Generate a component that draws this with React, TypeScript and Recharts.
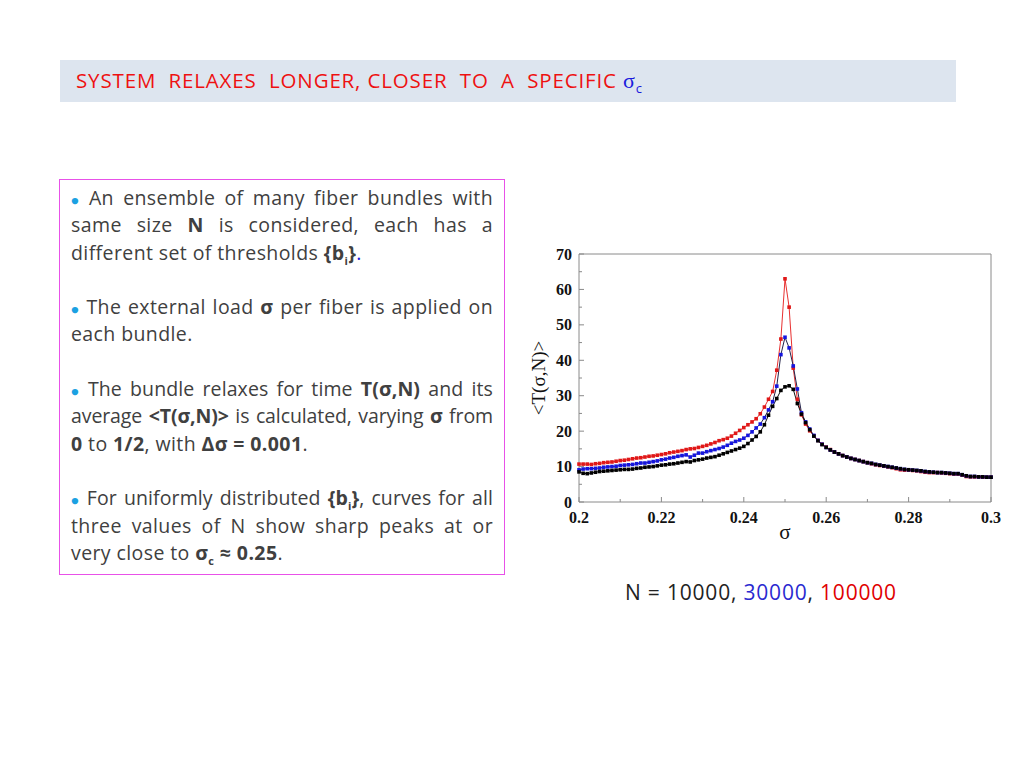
import React from "react";
import { LineChart, Line, XAxis, YAxis, ReferenceLine } from "recharts";

// sigma grid, step 0.001
const sigma = [
  0.2, 0.201, 0.202, 0.203, 0.204, 0.205, 0.206, 0.207, 0.208, 0.209,
  0.21, 0.211, 0.212, 0.213, 0.214, 0.215, 0.216, 0.217, 0.218, 0.219,
  0.22, 0.221, 0.222, 0.223, 0.224, 0.225, 0.226, 0.227, 0.228, 0.229,
  0.23, 0.231, 0.232, 0.233, 0.234, 0.235, 0.236, 0.237, 0.238, 0.239,
  0.24, 0.241, 0.242, 0.243, 0.244, 0.245, 0.246, 0.247, 0.248, 0.249,
  0.25, 0.251, 0.252, 0.253, 0.254, 0.255, 0.256, 0.257, 0.258, 0.259,
  0.26, 0.261, 0.262, 0.263, 0.264, 0.265, 0.266, 0.267, 0.268, 0.269,
  0.27, 0.271, 0.272, 0.273, 0.274, 0.275, 0.276, 0.277, 0.278, 0.279,
  0.28, 0.281, 0.282, 0.283, 0.284, 0.285, 0.286, 0.287, 0.288, 0.289,
  0.29, 0.291, 0.292, 0.293, 0.294, 0.295, 0.296, 0.297, 0.298, 0.299,
  0.3,
];

// N = 100000 (red)
const tRed = [
  10.7, 10.7, 10.7, 10.6, 10.8, 10.9, 11.1, 11.2, 11.3, 11.5,
  11.7, 11.8, 12.0, 12.2, 12.4, 12.5, 12.7, 12.9, 13.0, 13.2,
  13.4, 13.6, 13.9, 14.1, 14.3, 14.5, 14.8, 15.0, 15.1, 15.4,
  15.7, 16.0, 16.4, 16.8, 17.3, 17.6, 18.0, 18.6, 19.4, 20.2,
  21.0, 21.8, 22.6, 23.5, 24.9, 26.8, 29.0, 31.2, 37.2, 46.0,
  63.0, 55.0, 37.8, 29.0, 24.6, 22.0, 20.1, 18.7, 17.4, 16.3,
  15.5, 14.8, 14.1, 13.6, 13.1, 12.7, 12.3, 12.0, 11.7, 11.4,
  11.1, 10.8, 10.5, 10.3, 10.1, 9.9, 9.7, 9.4, 9.1, 9.0,
  9.0, 8.9, 8.8, 8.6, 8.4, 8.3, 8.3, 8.3, 8.2, 8.1,
  8.0, 7.9, 7.9, 7.6, 7.2, 7.1, 7.1, 7.1, 7.0, 7.0,
  7.0,
];

// N = 30000 (blue)
const tBlue = [
  9.1, 9.3, 9.4, 9.4, 9.5, 9.6, 9.8, 9.9, 10.0, 10.1,
  10.3, 10.4, 10.5, 10.6, 10.8, 11.0, 11.0, 11.2, 11.4, 11.6,
  11.9, 12.1, 12.4, 12.6, 12.9, 13.1, 13.3, 12.7, 13.2, 13.8,
  13.8, 14.2, 14.5, 14.8, 15.1, 15.5, 16.0, 16.6, 17.1, 17.5,
  18.0, 18.8, 19.8, 20.9, 22.0, 23.8, 26.0, 28.3, 32.7, 41.6,
  46.5, 43.5, 38.4, 31.9, 25.2, 22.6, 20.6, 18.8, 17.4, 16.3,
  15.4, 14.7, 14.1, 13.6, 13.1, 12.7, 12.3, 12.0, 11.7, 11.4,
  11.1, 10.9, 10.6, 10.4, 10.2, 10.0, 9.8, 9.6, 9.4, 9.2,
  9.1, 9.0, 8.9, 8.8, 8.6, 8.5, 8.4, 8.3, 8.3, 8.2,
  8.1, 8.0, 8.0, 7.7, 7.4, 7.2, 7.2, 7.1, 7.1, 7.0,
  7.0,
];

// N = 10000 (black)
const tBlack = [
  8.5, 8.1, 8.0, 8.2, 8.4, 8.6, 8.7, 8.8, 8.9, 9.0,
  9.1, 9.2, 9.2, 9.3, 9.5, 9.6, 9.8, 9.9, 10.0, 10.2,
  10.4, 10.5, 10.7, 10.8, 11.0, 11.2, 11.4, 11.3, 11.7, 11.9,
  12.1, 12.4, 12.6, 12.8, 13.2, 13.6, 14.0, 14.4, 14.8, 15.2,
  15.7, 16.5, 17.5, 18.5, 19.8, 21.8, 24.5, 27.0, 29.2, 31.5,
  32.5, 32.8, 31.8, 27.8, 24.8, 22.4, 20.4, 18.6, 17.3, 16.2,
  15.4, 14.7, 14.1, 13.6, 13.1, 12.7, 12.3, 12.0, 11.7, 11.4,
  11.1, 10.9, 10.6, 10.4, 10.2, 10.0, 9.8, 9.6, 9.4, 9.2,
  9.1, 9.0, 8.9, 8.8, 8.6, 8.5, 8.4, 8.3, 8.3, 8.2,
  8.1, 8.0, 8.0, 7.7, 7.4, 7.2, 7.2, 7.1, 7.1, 7.0,
  7.0,
];

const xTicks = [0.2, 0.21, 0.22, 0.23, 0.24, 0.25, 0.26, 0.27, 0.28, 0.29, 0.3];
const xMajor = [0.2, 0.22, 0.24, 0.26, 0.28, 0.3];
const yTicks = [0, 5, 10, 15, 20, 25, 30, 35, 40, 45, 50, 55, 60, 65, 70];
const yMajor = [0, 10, 20, 30, 40, 50, 60, 70];

const data = sigma.map((s, i) => ({
  s,
  red: tRed[i],
  blue: tBlue[i],
  black: tBlack[i],
}));

const serif = "'Liberation Serif', 'DejaVu Serif', serif";
const sans = "'Open Sans', Lato, sans-serif";
const axisColor = "#8a8a8a";
const TICK_MARGIN = 10;

const XTick = (props: any) => {
  const { x, y, payload } = props;
  const v = payload.value;
  const axisY = y - TICK_MARGIN;
  const major = xMajor.includes(v);
  return (
    <g>
      <line x1={x} x2={x} y1={axisY} y2={axisY - (major ? 5 : 3)} stroke={axisColor} />
      {major && (
        <text x={x} y={y} dy="0.7em" textAnchor="middle" fontFamily={serif} fontWeight="bold" fontSize={16} fill="#111">
          {String(v)}
        </text>
      )}
    </g>
  );
};

const YTick = (props: any) => {
  const { x, y, payload } = props;
  const v = payload.value;
  const axisX = x + TICK_MARGIN;
  const major = yMajor.includes(v);
  return (
    <g>
      <line x1={axisX} x2={axisX + (major ? 5 : 3)} y1={y} y2={y} stroke={axisColor} />
      {major && (
        <text x={x + 3} y={y} dy="0.35em" textAnchor="end" fontFamily={serif} fontWeight="bold" fontSize={16} fill="#111">
          {v}
        </text>
      )}
    </g>
  );
};

const squareDot = (color: string) => (props: any) => {
  const { cx, cy, index } = props;
  if (cx == null || cy == null) return <g key={`e-${index}`} />;
  return <rect key={`d-${color}-${index}`} x={cx - 1.8} y={cy - 1.8} width={3.6} height={3.6} fill={color} />;
};

const bullet = <span style={{ color: "#1ba1e2", fontSize: 13, marginRight: 6 }}>●</span>;

const lineBase: React.CSSProperties = { height: 27.3, lineHeight: "27.3px", whiteSpace: "nowrap" };
const Full = ({ children, ls }: { children: React.ReactNode; ls?: number }) => (
  <div
    style={{
      ...lineBase,
      textAlign: "justify",
      textAlignLast: "justify",
      ...(ls !== undefined ? { letterSpacing: ls } : {}),
    }}
  >
    {children}
  </div>
);
const Last = ({ children }: { children: React.ReactNode }) => (
  <div style={{ ...lineBase, textAlign: "left" }}>{children}</div>
);
const Blank = () => <div style={{ height: 27.3 }} />;
const subStyle: React.CSSProperties = { fontSize: 11, lineHeight: 0 };

export default function App() {
  return (
    <div style={{ position: "absolute", left: 0, top: 0, width: 1024, height: 768, background: "#fff", fontFamily: sans }}>
      {/* title bar */}
      <div
        style={{
          position: "absolute",
          left: 60,
          top: 60,
          width: 896,
          height: 42,
          background: "#dde5ef",
        }}
      >
        <div
          style={{
            position: "absolute",
            left: 16,
            top: 7,
            fontSize: 20.5,
            letterSpacing: 0.85,
            color: "#ee1111",
            whiteSpace: "pre",
            lineHeight: "26px",
          }}
        >
          {"SYSTEM  RELAXES  LONGER, CLOSER  TO  A  SPECIFIC "}
          <span style={{ color: "#1a1add", fontFamily: serif, fontSize: 22 }}>σ</span>
          <sub style={{ color: "#1a1add", fontSize: 13 }}>c</sub>
        </div>
      </div>

      {/* text box */}
      <div
        style={{
          position: "absolute",
          left: 59,
          top: 179,
          width: 422,
          height: 384,
          border: "1.5px solid #e851e8",
          padding: "4px 11px 6px 11px",
          fontSize: 19.5,
          letterSpacing: 0.4,
          color: "#404040",
        }}
      >
        <Full>{bullet}An ensemble of many fiber bundles with</Full>
        <Full>
          same size <b>N</b> is considered, each has a
        </Full>
        <Last>
          different set of thresholds <b>{"{b"}<sub style={subStyle}>i</sub>{"}"}</b>
          <span style={{ color: "#1a1add" }}>.</span>
        </Last>
        <Blank />
        <Full>
          {bullet}The external load <b>σ</b> per fiber is applied on
        </Full>
        <Last>each bundle.</Last>
        <Blank />
        <Full ls={0.1}>
          {bullet}The bundle relaxes for time <b>T(σ,N)</b> and its
        </Full>
        <Full ls={-0.1}>
          average <b>{"<T(σ,N)>"}</b> is calculated, varying <b>σ</b> from
        </Full>
        <Last>
          <b>0</b> to <b>1/2</b>, with <b>Δσ = 0.001</b>.
        </Last>
        <Blank />
        <Full ls={0.1}>
          {bullet}For uniformly distributed <b>{"{b"}<sub style={subStyle}>i</sub>{"}"}</b>, curves for all
        </Full>
        <Full>three values of N show sharp peaks at  or</Full>
        <Last>
          very close to <b>σ<sub style={subStyle}>c</sub> ≈ 0.25</b>.
        </Last>
      </div>

      {/* chart */}
      <div style={{ position: "absolute", left: 510, top: 240 }}>
        <LineChart width={495} height={312} data={data} margin={{ top: 14, right: 14, bottom: 0, left: 0 }}>
          <XAxis
            dataKey="s"
            type="number"
            domain={[0.2, 0.3]}
            ticks={xTicks}
            interval={0}
            tickSize={0}
            tickMargin={TICK_MARGIN}
            tick={XTick}
            height={50}
            axisLine={{ stroke: axisColor }}
            label={{ value: "σ", position: "insideBottom", offset: 13, fontFamily: serif, fontSize: 21, fill: "#111" }}
          />
          <YAxis
            type="number"
            domain={[0, 70]}
            ticks={yTicks}
            interval={0}
            tickSize={0}
            tickMargin={TICK_MARGIN}
            tick={YTick}
            width={69}
            axisLine={{ stroke: axisColor }}
            label={{ value: "<T(σ,N)>", angle: -90, position: "center", dx: -6, fontFamily: serif, fontSize: 19, fill: "#111" }}
          />
          <ReferenceLine y={70} stroke={axisColor} />
          <ReferenceLine x={0.3} stroke={axisColor} />
          <Line
            dataKey="red"
            stroke="#e83030"
            strokeWidth={1}
            dot={squareDot("#e01818")}
            activeDot={false}
            isAnimationActive={false}
          />
          <Line
            dataKey="blue"
            stroke="#23234a"
            strokeWidth={1}
            dot={squareDot("#1515e0")}
            activeDot={false}
            isAnimationActive={false}
          />
          <Line
            dataKey="black"
            stroke="#111"
            strokeWidth={1}
            dot={squareDot("#000")}
            activeDot={false}
            isAnimationActive={false}
          />
        </LineChart>
      </div>

      {/* caption */}
      <div
        style={{
          position: "absolute",
          left: 625,
          top: 578,
          fontSize: 21,
          letterSpacing: 0.8,
          color: "#222",
          whiteSpace: "nowrap",
        }}
      >
        N = 10000, <span style={{ color: "#2a2ad0" }}>30000</span>, <span style={{ color: "#e00000" }}>100000</span>
      </div>
    </div>
  );
}
